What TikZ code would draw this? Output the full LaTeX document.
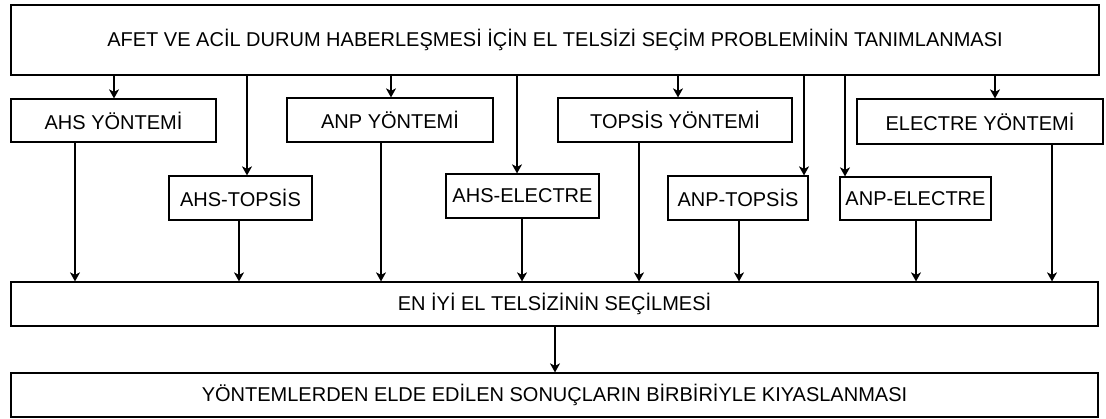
\documentclass[tikz,border=0pt]{standalone}
\usepackage{fontspec}
\setmainfont{Liberation Sans}
\usetikzlibrary{arrows.meta}
\begin{document}
\begin{tikzpicture}[x=1pt,y=1pt,
  box/.style={draw=black, line width=1.2pt, fill=white, inner sep=0pt, align=center,
    font=\fontsize{20}{24}\selectfont, text=black},
  arr/.style={draw=black, line width=1.1pt, -{Stealth[length=9pt,width=10pt,inset=2.5pt]}}]
\useasboundingbox (0,0) rectangle (1106,419);
% boxes
\node[box, minimum width=1088pt, minimum height=70pt] (top) at (555,379) {AFET VE ACİL DURUM HABERLEŞMESİ İÇİN EL TELSİZİ SEÇİM PROBLEMİNİN TANIMLANMASI};
\node[box, minimum width=205pt, minimum height=43pt] (ahs) at (113.5,298.5) {AHS YÖNTEMİ};
\node[box, minimum width=206pt, minimum height=44pt] (anp) at (390,299) {ANP YÖNTEMİ};
\node[box, minimum width=234pt, minimum height=44pt] (topsis) at (675,299) {TOPSİS YÖNTEMİ};
\node[box, minimum width=246pt, minimum height=45pt] (electre) at (980,297.5) {ELECTRE YÖNTEMİ};
\node[box, minimum width=143pt, minimum height=44pt] (ahstop) at (240.5,221) {AHS-TOPSİS};
\node[box, minimum width=153pt, minimum height=44pt] (ahsel) at (522.5,223) {AHS-ELECTRE};
\node[box, minimum width=140pt, minimum height=44pt] (anptop) at (738,221) {ANP-TOPSİS};
\node[box, minimum width=151pt, minimum height=43pt] (anpel) at (915.5,220.5) {ANP-ELECTRE};
\node[box, minimum width=1087pt, minimum height=44pt] (en) at (554.5,115) {EN İYİ EL TELSİZİNİN SEÇİLMESİ};
\node[box, minimum width=1087pt, minimum height=44pt] (final) at (554.5,24) {YÖNTEMLERDEN ELDE EDİLEN SONUÇLARIN BİRBİRİYLE KIYASLANMASI};
% top box to methods
\draw[arr] ([xshift=0.5pt]ahs.north |- top.south) -- ([xshift=0.5pt]ahs.north);
\draw[arr] ([xshift=6.5pt]ahstop.north |- top.south) -- ([xshift=6.5pt]ahstop.north);
\draw[arr] ([xshift=1pt]anp.north |- top.south) -- ([xshift=1pt]anp.north);
\draw[arr] ([xshift=-5.5pt]ahsel.north |- top.south) -- ([xshift=-5.5pt]ahsel.north);
\draw[arr] ([xshift=3pt]topsis.north |- top.south) -- ([xshift=3pt]topsis.north);
\draw[arr] ([xshift=66pt]anptop.north |- top.south) -- ([xshift=66pt]anptop.north);
\draw[arr] ([xshift=-70.5pt]anpel.north |- top.south) -- ([xshift=-70.5pt]anpel.north);
\draw[arr] ([xshift=15pt]electre.north |- top.south) -- ([xshift=15pt]electre.north);
% methods to best selection
\draw[arr] ([xshift=-38.5pt]ahs.south) -- ([xshift=-38.5pt]ahs.south |- en.north);
\draw[arr] ([xshift=-1.5pt]ahstop.south) -- ([xshift=-1.5pt]ahstop.south |- en.north);
\draw[arr] ([xshift=-9pt]anp.south) -- ([xshift=-9pt]anp.south |- en.north);
\draw[arr] ([xshift=-0.5pt]ahsel.south) -- ([xshift=-0.5pt]ahsel.south |- en.north);
\draw[arr] ([xshift=-36pt]topsis.south) -- ([xshift=-36pt]topsis.south |- en.north);
\draw[arr] ([xshift=1pt]anptop.south) -- ([xshift=1pt]anptop.south |- en.north);
\draw[arr] ([xshift=0.5pt]anpel.south) -- ([xshift=0.5pt]anpel.south |- en.north);
\draw[arr] ([xshift=72pt]electre.south) -- ([xshift=72pt]electre.south |- en.north);
% best selection to comparison
\draw[arr] ([xshift=0.5pt]en.south) -- ([xshift=0.5pt]final.north);
\end{tikzpicture}
\end{document}
